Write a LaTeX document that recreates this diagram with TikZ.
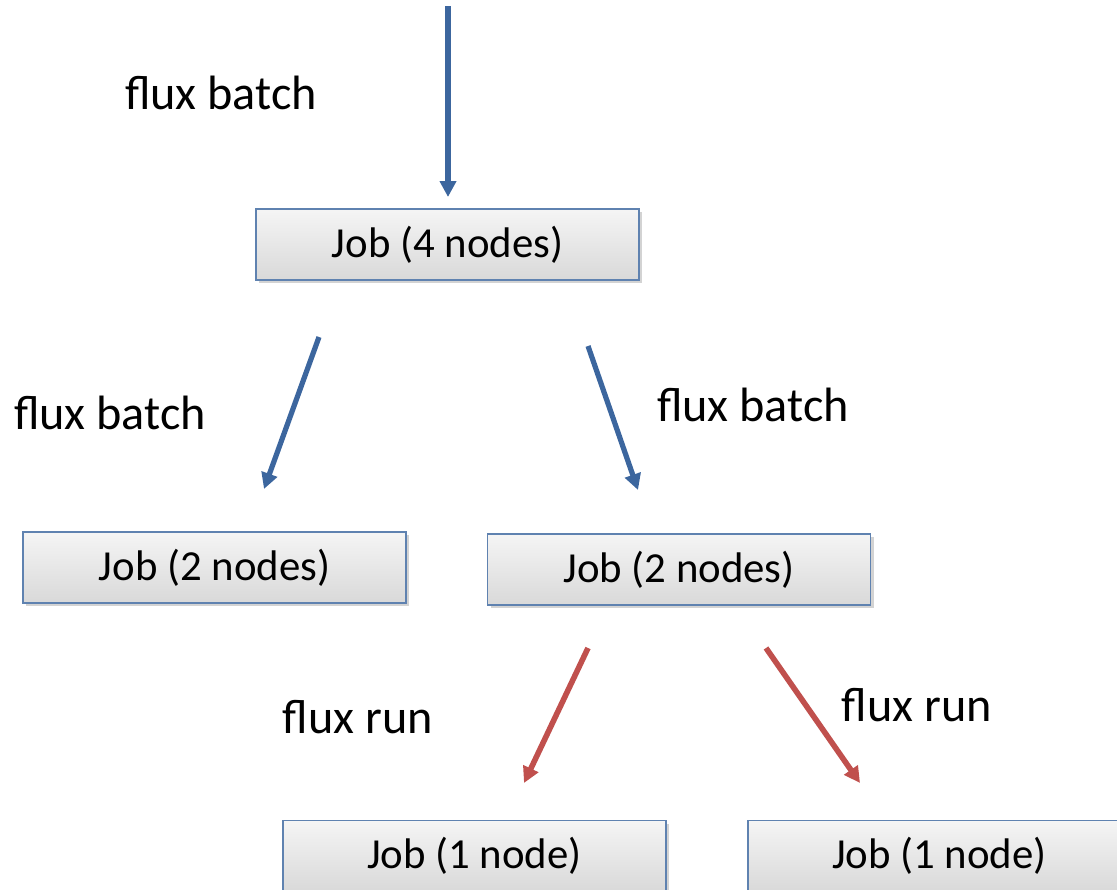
\documentclass[tikz,border=0pt]{standalone}
\usepackage{fontspec}
\setmainfont{Carlito}
\usetikzlibrary{arrows.meta, shadows}
\definecolor{fluxblue}{HTML}{3C669E}
\definecolor{fluxred}{HTML}{C0504D}
\definecolor{boxline}{HTML}{5F82B0}

\begin{document}
\begin{tikzpicture}[x=0.5pt,y=-0.5pt,thick,
  job node/.style={rectangle,draw=boxline,line width=0.6pt,top color=gray!8,bottom color=gray!30,
    minimum width=191.5pt,minimum height=35.5pt,inner sep=0pt,font=\fontsize{21.4}{24}\selectfont,
    drop shadow={shadow xshift=1.5pt,shadow yshift=-1.5pt,opacity=0.35,fill=gray}},
  cmd/.style={font=\fontsize{24.1}{27}\selectfont,inner sep=0pt},
  batch/.style={draw=fluxblue,line width=2.6pt,-{Triangle[length=8pt,width=8pt]}},
  run/.style={draw=fluxred,line width=2.8pt,-{Triangle[length=8pt,width=8pt]}}]
  \useasboundingbox (0,0) rectangle (1117,889);
  \clip (0,0) rectangle (1117,889);
  \node[job node] (J4) at (447.5,244.5) {Job (4 nodes)};
  \node[job node] (J2a) at (214.5,567.5) {Job (2 nodes)};
  \node[job node] (J2b) at (679,569.5) {Job (2 nodes)};
  \node[job node] (J1a) at (474.5,856) {Job (1 node)};
  \node[job node] (J1b) at (939.5,856) {Job (1 node)};
  % arrow ends
  \coordinate (top) at (448,6);
  \coordinate (topE) at (448,197);
  \coordinate (b1s) at (319,337);
  \coordinate (b1e) at (264,489);
  \coordinate (b2s) at (588,346);
  \coordinate (b2e) at (638,490);
  \coordinate (r1s) at (588,648);
  \coordinate (r1e) at (524,783);
  \coordinate (r2s) at (766,648);
  \coordinate (r2e) at (860,783);
  \path (top) edge[batch] (topE)
        (b1s) edge[batch] (b1e)
        (b2s) edge[batch] (b2e)
        (r1s) edge[run] (r1e)
        (r2s) edge[run] (r2e);
  \node[cmd] (c0) at (221,93) {flux batch};
  \node[cmd] (c1) at (110,413) {flux batch};
  \node[cmd] (c2) at (753,405) {flux batch};
  \node[cmd] (c3) at (358,717) {flux run};
  \node[cmd] (c4) at (917,705) {flux run};
\end{tikzpicture}
\end{document}
